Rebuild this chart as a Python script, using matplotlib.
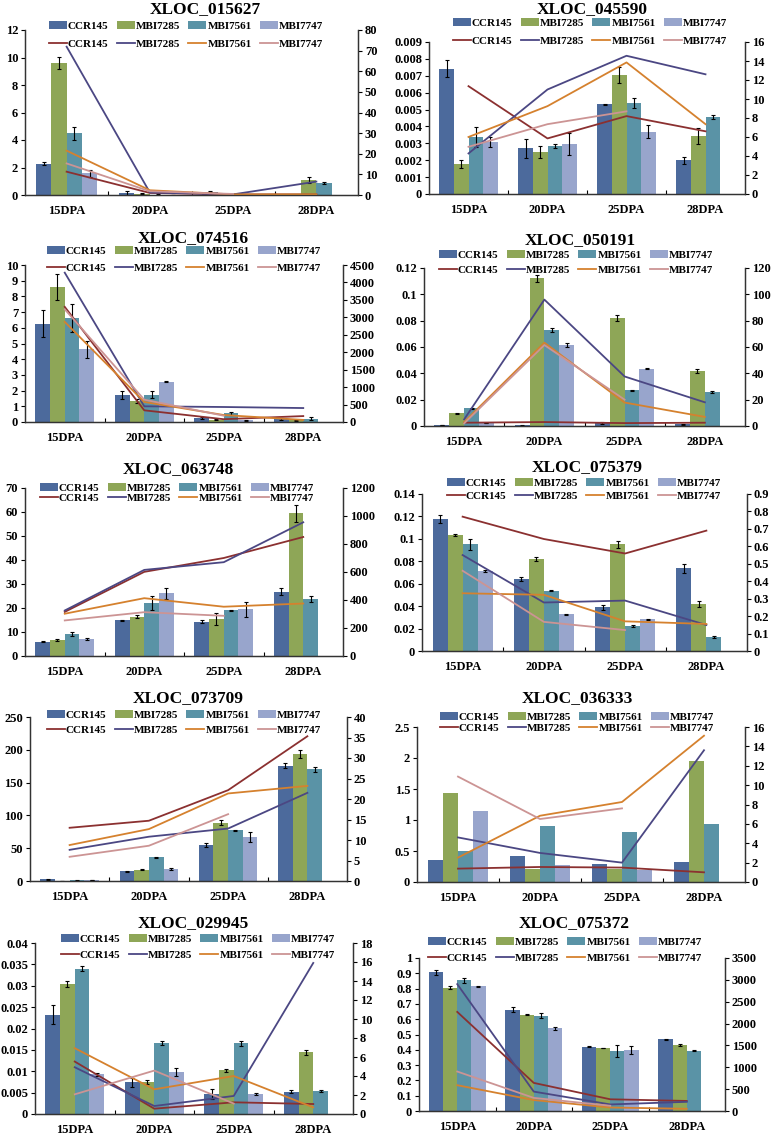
import numpy as np
import matplotlib
matplotlib.use('Agg')
import matplotlib.pyplot as plt
from matplotlib.patches import Patch
from matplotlib.lines import Line2D
from matplotlib.ticker import FuncFormatter

plt.rcParams['font.family'] = ['Liberation Serif', 'DejaVu Serif']
plt.rcParams['font.weight'] = 'bold'

nan = np.nan
stages = ['15DPA', '20DPA', '25DPA', '28DPA']
lines_names = ['CCR145', 'MBI7285', 'MBI7561', 'MBI7747']

# rows: CCR145, MBI7285, MBI7561, MBI7747 ; cols: 15/20/25/28 DPA
bar_015627 = [[2.28, 0.15, 0.24, 0.02], [9.62, 0.10, 0.02, 1.10],
              [4.48, 0.03, 0.01, 0.87], [1.58, 0.01, 0.01, nan]]
err_015627 = [[0.13, 0.12, 0.03, 0.0], [0.45, 0.05, 0.0, 0.2],
              [0.45, 0.01, 0.0, 0.08], [0.25, 0.0, 0.0, nan]]
line_015627 = [[11.3, 1.0, 0.3, 0.3], [71.9, 1.2, 0.3, 6.5],
               [21.5, 2.3, 0.3, 0.3], [15.3, 1.8, 0.5, nan]]

bar_045590 = [[0.00742, 0.0027, 0.00531, 0.0020], [0.00179, 0.0025, 0.00703, 0.00343],
              [0.00339, 0.00285, 0.00539, 0.00455], [0.00309, 0.00295, 0.0037, nan]]
err_045590 = [[0.00052, 0.00055, 0.00003, 0.0002], [0.00025, 0.00035, 0.00048, 0.00048],
              [0.0006, 0.0001, 0.00028, 0.00012], [0.00028, 0.00065, 0.00038, nan]]
line_045590 = [[11.35, 5.85, 8.2, 6.6], [4.27, 11.0, 14.55, 12.6],
               [6.0, 9.25, 13.85, 7.35], [4.97, 7.35, 8.7, nan]]

bar_074516 = [[6.26, 1.70, 0.25, 0.20], [8.60, 1.34, 0.15, 0.12],
              [6.64, 1.74, 0.55, 0.20], [4.64, 2.55, 0.10, nan]]
err_074516 = [[0.85, 0.25, 0.04, 0.05], [0.80, 0.10, 0.03, 0.03],
              [0.90, 0.22, 0.08, 0.10], [0.55, 0.03, 0.02, nan]]
line_074516 = [[3300, 335, 80, 170], [4280, 450, 430, 400],
               [2870, 575, 200, 60], [3230, 640, 180, nan]]

bar_050191 = [[0.0008, 0.0005, 0.0022, 0.0012], [0.0097, 0.1121, 0.0821, 0.0419],
              [0.0135, 0.0729, 0.0272, 0.0257], [0.0022, 0.0615, 0.0435, nan]]
err_050191 = [[0.0002, 0.0002, 0.0005, 0.0002], [0.0003, 0.0025, 0.002, 0.0015],
              [0.0005, 0.0012, 0.0005, 0.0008], [0.0003, 0.0012, 0.0003, nan]]
line_050191 = [[2.5, 3.0, 2.2, 2.5], [5.0, 96.0, 37.6, 18.0],
               [3.0, 63.3, 17.8, 6.9], [2.0, 61.5, 20.0, nan]]

bar_063748 = [[5.96, 14.84, 14.3, 26.8], [6.8, 16.4, 15.5, 59.4],
              [9.3, 22.2, 19.0, 23.6], [7.07, 26.1, 19.4, nan]]
err_063748 = [[0.3, 0.3, 0.6, 1.5], [0.4, 0.6, 2.5, 3.5],
              [0.8, 3.0, 0.2, 1.2], [0.4, 2.3, 3.2, nan]]
line_063748 = [[315, 601, 700, 850], [325, 615, 670, 955],
               [302, 413, 352, 375], [254, 313, 287, nan]]

bar_075379 = [[0.118, 0.0644, 0.039, 0.0739], [0.1037, 0.082, 0.095, 0.042],
              [0.095, 0.0536, 0.022, 0.0125], [0.0715, 0.0328, 0.0283, nan]]
err_075379 = [[0.0035, 0.002, 0.002, 0.004], [0.001, 0.0015, 0.003, 0.003],
              [0.005, 0.0005, 0.001, 0.001], [0.001, 0.0005, 0.0006, nan]]
line_075379 = [[0.77, 0.642, 0.559, 0.69], [0.55, 0.278, 0.289, 0.149],
               [0.331, 0.322, 0.17, 0.155], [0.46, 0.167, 0.12, nan]]

bar_073709 = [[2.5, 14.7, 55.3, 176.0], [0.5, 17.2, 88.7, 194.0],
              [1.0, 36.5, 77.1, 170.0], [1.5, 18.3, 67.4, nan]]
err_073709 = [[0.5, 0.8, 3.0, 4.0], [0.2, 0.8, 4.0, 6.0],
              [0.3, 0.8, 1.2, 3.5], [0.4, 2.0, 8.0, nan]]
line_073709 = [[12.98, 14.7, 22.16, 35.3], [7.6, 10.8, 12.8, 21.5],
               [8.77, 12.66, 21.35, 23.2], [5.9, 8.6, 16.3, nan]]

bar_036333 = [[0.356, 0.42, 0.297, 0.319], [1.436, 0.216, 0.216, 1.955],
              [0.508, 0.90, 0.81, 0.94], [1.145, 0.27, 0.20, nan]]
err_036333 = None
line_036333 = [[1.38, 1.55, 1.49, 1.0], [4.6, 3.0, 2.0, 13.6],
               [2.52, 6.84, 8.26, 15.1], [10.88, 6.5, 7.6, nan]]

bar_029945 = [[0.0232, 0.0074, 0.0047, 0.0052], [0.0304, 0.0075, 0.0102, 0.0144],
              [0.034, 0.0166, 0.0165, 0.0054], [0.0093, 0.0098, 0.0046, nan]]
err_029945 = [[0.0022, 0.001, 0.0012, 0.0003], [0.0006, 0.0004, 0.0003, 0.0006],
              [0.0006, 0.0004, 0.0005, 0.0003], [0.0004, 0.0009, 0.0002, nan]]
line_029945 = [[5.52, 0.56, 1.23, 1.05], [4.92, 0.84, 1.9, 15.9],
               [6.93, 2.6, 4.0, 0.7], [2.07, 4.57, 1.1, nan]]

bar_075372 = [[0.906, 0.663, 0.42, 0.47], [0.807, 0.63, 0.411, 0.433],
              [0.853, 0.624, 0.392, 0.394], [0.816, 0.54, 0.398, nan]]
err_075372 = [[0.015, 0.015, 0.002, 0.003], [0.01, 0.003, 0.002, 0.008],
              [0.015, 0.018, 0.04, 0.003], [0.004, 0.012, 0.025, nan]]
line_075372 = [[2267, 643, 268, 230], [2902, 444, 150, 210],
               [590, 250, 80, 50], [903, 300, 120, nan]]

genes = ['XLOC_015627', 'XLOC_045590', 'XLOC_074516', 'XLOC_050191', 'XLOC_063748',
         'XLOC_075379', 'XLOC_073709', 'XLOC_036333', 'XLOC_029945', 'XLOC_075372']
bar_data = [bar_015627, bar_045590, bar_074516, bar_050191, bar_063748,
            bar_075379, bar_073709, bar_036333, bar_029945, bar_075372]
err_data = [err_015627, err_045590, err_074516, err_050191, err_063748,
            err_075379, err_073709, err_036333, err_029945, err_075372]
line_data = [line_015627, line_045590, line_074516, line_050191, line_063748,
             line_075379, line_073709, line_036333, line_029945, line_075372]
# (max, step) of left and right axes
left_axis = [(12, 2), (0.009, 0.001), (10, 1), (0.12, 0.02), (70, 10),
             (0.14, 0.02), (250, 50), (2.5, 0.5), (0.04, 0.005), (1, 0.1)]
right_axis = [(80, 10), (16, 2), (4500, 500), (120, 20), (1200, 200),
              (0.9, 0.1), (40, 5), (16, 2), (18, 2), (3500, 500)]

# layout in pixels: left, top, right, bottom of plot; title (x, y); legend (x, y1, y2)
boxes = [(25, 30, 358, 195), (429, 42, 745, 194), (25, 265, 343, 422), (424, 268, 745, 426),
         (25, 488, 343, 656), (422, 494, 747, 651), (30, 717, 347, 881), (417, 727, 745, 882),
         (35, 943, 353, 1114), (419, 958, 725, 1111)]
titles_at = [(205, 9), (592, 9), (193, 238), (580, 240), (178, 469), (587, 467),
             (188, 698), (577, 698), (193, 923), (574, 923)]
legend_at = [(186, 26, 44), (590, 23, 41), (184, 251, 268), (576, 255, 270), (177, 488, 498),
             (584, 483, 496), (184, 715, 730), (577, 717, 728), (198, 939, 955), (565, 942, 958)]

bar_colors = ['#4c6a9c', '#8ea657', '#5a93a6', '#98a5cc']
line_colors = ['#8b3030', '#4b4783', '#d5812e', '#cc9494']

W, H = 774, 1134
fig = plt.figure(figsize=(W / 100, H / 100), dpi=100)
fmt = FuncFormatter(lambda v, _: ('%.6f' % v).rstrip('0').rstrip('.'))
x = np.arange(len(stages))
w = 0.185

for k, gene in enumerate(genes):
    l, t, r, b = boxes[k]
    ax = fig.add_axes([l / W, 1 - b / H, (r - l) / W, (b - t) / H])
    bars, errs, lines = bar_data[k], err_data[k], line_data[k]
    for i in range(4):
        ax.bar(x + (i - 1.5) * w, bars[i], w, color=bar_colors[i], linewidth=0,
               yerr=None if errs is None else errs[i],
               error_kw=dict(ecolor='black', elinewidth=0.8, capsize=1.6, capthick=0.8))
    ax2 = ax.twinx()
    for i in range(4):
        ax2.plot(x, lines[i], color=line_colors[i], lw=1.3)

    lmax, lstep = left_axis[k]
    rmax, rstep = right_axis[k]
    ax.set_ylim(0, lmax)
    ax.set_yticks(np.arange(0, lmax + lstep / 2, lstep))
    ax2.set_ylim(0, rmax)
    ax2.set_yticks(np.arange(0, rmax + rstep / 2, rstep))
    ax.yaxis.set_major_formatter(fmt)
    ax2.yaxis.set_major_formatter(fmt)
    ax.set_xlim(-0.5, 3.5)
    ax.set_xticks(x)
    ax.set_xticklabels(stages)
    ax.set_xticks([0.5, 1.5, 2.5], minor=True)
    ax.tick_params(axis='x', which='major', length=0, pad=7, labelsize=9)
    ax.tick_params(axis='x', which='minor', direction='in', length=3, width=0.8)
    ax.tick_params(axis='y', direction='out', length=3, width=0.8, labelsize=9, pad=2)
    ax2.tick_params(axis='y', direction='out', length=3, width=0.8, labelsize=9, pad=2)
    for a in (ax, ax2):
        a.spines['top'].set_visible(False)
        for s in ('left', 'right', 'bottom'):
            a.spines[s].set_linewidth(0.9)
            a.spines[s].set_color('#333333')

    tx, ty = titles_at[k]
    fig.text(tx / W, 1 - ty / H, gene, ha='center', va='center', fontsize=12.5, fontweight='bold')

    lx, ly1, ly2 = legend_at[k]
    bh = [Patch(facecolor=c, edgecolor='none') for c in bar_colors]
    lh = [Line2D([], [], color=c, lw=1.3) for c in line_colors]
    kw = dict(loc='center', ncol=4, frameon=False, fontsize=8, handlelength=1.6,
              handletextpad=0.1, columnspacing=0.75, borderpad=0, bbox_transform=fig.transFigure)
    fig.legend(bh, lines_names, bbox_to_anchor=(lx / W, 1 - ly1 / H), **kw)
    fig.legend(lh, lines_names, bbox_to_anchor=(lx / W, 1 - ly2 / H), **kw)

fig.savefig('out.png', dpi=100)
